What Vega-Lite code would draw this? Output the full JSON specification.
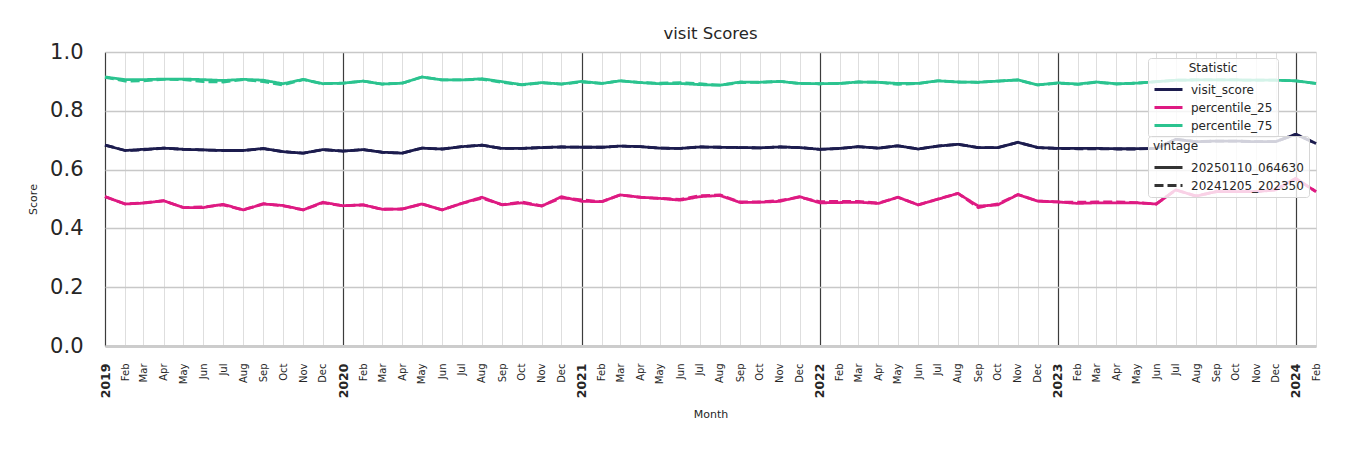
{
  "$schema": "https://vega.github.io/schema/vega-lite/v6.json",
  "autosize": "none",
  "width": 1211,
  "height": 294,
  "padding": {"left": 105, "top": 52, "right": 34, "bottom": 104},
  "background": "white",
  "config": {
    "view": {"stroke": null},
    "font": "DejaVu Sans",
    "text": {"font": "DejaVu Sans"}
  },
  "title": {
    "text": "visit Scores",
    "fontSize": 16.5,
    "fontWeight": "normal",
    "font": "DejaVu Sans",
    "color": "#262626",
    "anchor": "middle",
    "offset": -1
  },
  "data": {
    "values": [
      {"month": "2019-01-01", "vintage": "20250110_064630", "visit_score": 0.683, "percentile_25": 0.508, "percentile_75": 0.915},
      {"month": "2019-02-01", "vintage": "20250110_064630", "visit_score": 0.665, "percentile_25": 0.483, "percentile_75": 0.906},
      {"month": "2019-03-01", "vintage": "20250110_064630", "visit_score": 0.669, "percentile_25": 0.486, "percentile_75": 0.906},
      {"month": "2019-04-01", "vintage": "20250110_064630", "visit_score": 0.673, "percentile_25": 0.494, "percentile_75": 0.908},
      {"month": "2019-05-01", "vintage": "20250110_064630", "visit_score": 0.669, "percentile_25": 0.471, "percentile_75": 0.908},
      {"month": "2019-06-01", "vintage": "20250110_064630", "visit_score": 0.667, "percentile_25": 0.471, "percentile_75": 0.906},
      {"month": "2019-07-01", "vintage": "20250110_064630", "visit_score": 0.665, "percentile_25": 0.482, "percentile_75": 0.903},
      {"month": "2019-08-01", "vintage": "20250110_064630", "visit_score": 0.665, "percentile_25": 0.463, "percentile_75": 0.907},
      {"month": "2019-09-01", "vintage": "20250110_064630", "visit_score": 0.672, "percentile_25": 0.483, "percentile_75": 0.904},
      {"month": "2019-10-01", "vintage": "20250110_064630", "visit_score": 0.661, "percentile_25": 0.478, "percentile_75": 0.892},
      {"month": "2019-11-01", "vintage": "20250110_064630", "visit_score": 0.656, "percentile_25": 0.463, "percentile_75": 0.907},
      {"month": "2019-12-01", "vintage": "20250110_064630", "visit_score": 0.668, "percentile_25": 0.489, "percentile_75": 0.892},
      {"month": "2020-01-01", "vintage": "20250110_064630", "visit_score": 0.663, "percentile_25": 0.477, "percentile_75": 0.894},
      {"month": "2020-02-01", "vintage": "20250110_064630", "visit_score": 0.668, "percentile_25": 0.480, "percentile_75": 0.901},
      {"month": "2020-03-01", "vintage": "20250110_064630", "visit_score": 0.659, "percentile_25": 0.465, "percentile_75": 0.891},
      {"month": "2020-04-01", "vintage": "20250110_064630", "visit_score": 0.656, "percentile_25": 0.466, "percentile_75": 0.894},
      {"month": "2020-05-01", "vintage": "20250110_064630", "visit_score": 0.673, "percentile_25": 0.483, "percentile_75": 0.915},
      {"month": "2020-06-01", "vintage": "20250110_064630", "visit_score": 0.670, "percentile_25": 0.463, "percentile_75": 0.905},
      {"month": "2020-07-01", "vintage": "20250110_064630", "visit_score": 0.678, "percentile_25": 0.485, "percentile_75": 0.905},
      {"month": "2020-08-01", "vintage": "20250110_064630", "visit_score": 0.683, "percentile_25": 0.506, "percentile_75": 0.909},
      {"month": "2020-09-01", "vintage": "20250110_064630", "visit_score": 0.672, "percentile_25": 0.480, "percentile_75": 0.899},
      {"month": "2020-10-01", "vintage": "20250110_064630", "visit_score": 0.672, "percentile_25": 0.487, "percentile_75": 0.889},
      {"month": "2020-11-01", "vintage": "20250110_064630", "visit_score": 0.675, "percentile_25": 0.476, "percentile_75": 0.896},
      {"month": "2020-12-01", "vintage": "20250110_064630", "visit_score": 0.677, "percentile_25": 0.508, "percentile_75": 0.891},
      {"month": "2021-01-01", "vintage": "20250110_064630", "visit_score": 0.676, "percentile_25": 0.492, "percentile_75": 0.900},
      {"month": "2021-02-01", "vintage": "20250110_064630", "visit_score": 0.676, "percentile_25": 0.491, "percentile_75": 0.893},
      {"month": "2021-03-01", "vintage": "20250110_064630", "visit_score": 0.680, "percentile_25": 0.514, "percentile_75": 0.902},
      {"month": "2021-04-01", "vintage": "20250110_064630", "visit_score": 0.678, "percentile_25": 0.506, "percentile_75": 0.896},
      {"month": "2021-05-01", "vintage": "20250110_064630", "visit_score": 0.673, "percentile_25": 0.502, "percentile_75": 0.892},
      {"month": "2021-06-01", "vintage": "20250110_064630", "visit_score": 0.672, "percentile_25": 0.496, "percentile_75": 0.893},
      {"month": "2021-07-01", "vintage": "20250110_064630", "visit_score": 0.677, "percentile_25": 0.508, "percentile_75": 0.889},
      {"month": "2021-08-01", "vintage": "20250110_064630", "visit_score": 0.676, "percentile_25": 0.512, "percentile_75": 0.887},
      {"month": "2021-09-01", "vintage": "20250110_064630", "visit_score": 0.675, "percentile_25": 0.488, "percentile_75": 0.898},
      {"month": "2021-10-01", "vintage": "20250110_064630", "visit_score": 0.674, "percentile_25": 0.489, "percentile_75": 0.897},
      {"month": "2021-11-01", "vintage": "20250110_064630", "visit_score": 0.677, "percentile_25": 0.492, "percentile_75": 0.900},
      {"month": "2021-12-01", "vintage": "20250110_064630", "visit_score": 0.675, "percentile_25": 0.508, "percentile_75": 0.893},
      {"month": "2022-01-01", "vintage": "20250110_064630", "visit_score": 0.669, "percentile_25": 0.487, "percentile_75": 0.892},
      {"month": "2022-02-01", "vintage": "20250110_064630", "visit_score": 0.672, "percentile_25": 0.488, "percentile_75": 0.893},
      {"month": "2022-03-01", "vintage": "20250110_064630", "visit_score": 0.678, "percentile_25": 0.489, "percentile_75": 0.898},
      {"month": "2022-04-01", "vintage": "20250110_064630", "visit_score": 0.673, "percentile_25": 0.485, "percentile_75": 0.897},
      {"month": "2022-05-01", "vintage": "20250110_064630", "visit_score": 0.681, "percentile_25": 0.506, "percentile_75": 0.893},
      {"month": "2022-06-01", "vintage": "20250110_064630", "visit_score": 0.670, "percentile_25": 0.480, "percentile_75": 0.893},
      {"month": "2022-07-01", "vintage": "20250110_064630", "visit_score": 0.680, "percentile_25": 0.499, "percentile_75": 0.902},
      {"month": "2022-08-01", "vintage": "20250110_064630", "visit_score": 0.686, "percentile_25": 0.519, "percentile_75": 0.898},
      {"month": "2022-09-01", "vintage": "20250110_064630", "visit_score": 0.675, "percentile_25": 0.476, "percentile_75": 0.897},
      {"month": "2022-10-01", "vintage": "20250110_064630", "visit_score": 0.675, "percentile_25": 0.480, "percentile_75": 0.901},
      {"month": "2022-11-01", "vintage": "20250110_064630", "visit_score": 0.693, "percentile_25": 0.515, "percentile_75": 0.905},
      {"month": "2022-12-01", "vintage": "20250110_064630", "visit_score": 0.675, "percentile_25": 0.493, "percentile_75": 0.888},
      {"month": "2023-01-01", "vintage": "20250110_064630", "visit_score": 0.672, "percentile_25": 0.490, "percentile_75": 0.895},
      {"month": "2023-02-01", "vintage": "20250110_064630", "visit_score": 0.672, "percentile_25": 0.485, "percentile_75": 0.891},
      {"month": "2023-03-01", "vintage": "20250110_064630", "visit_score": 0.672, "percentile_25": 0.487, "percentile_75": 0.898},
      {"month": "2023-04-01", "vintage": "20250110_064630", "visit_score": 0.671, "percentile_25": 0.487, "percentile_75": 0.892},
      {"month": "2023-05-01", "vintage": "20250110_064630", "visit_score": 0.671, "percentile_25": 0.487, "percentile_75": 0.894},
      {"month": "2023-06-01", "vintage": "20250110_064630", "visit_score": 0.672, "percentile_25": 0.483, "percentile_75": 0.899},
      {"month": "2023-07-01", "vintage": "20250110_064630", "visit_score": 0.703, "percentile_25": 0.531, "percentile_75": 0.904},
      {"month": "2023-08-01", "vintage": "20250110_064630", "visit_score": 0.695, "percentile_25": 0.510, "percentile_75": 0.905},
      {"month": "2023-09-01", "vintage": "20250110_064630", "visit_score": 0.697, "percentile_25": 0.525, "percentile_75": 0.905},
      {"month": "2023-10-01", "vintage": "20250110_064630", "visit_score": 0.697, "percentile_25": 0.525, "percentile_75": 0.905},
      {"month": "2023-11-01", "vintage": "20250110_064630", "visit_score": 0.695, "percentile_25": 0.525, "percentile_75": 0.904},
      {"month": "2023-12-01", "vintage": "20250110_064630", "visit_score": 0.695, "percentile_25": 0.531, "percentile_75": 0.904},
      {"month": "2024-01-01", "vintage": "20250110_064630", "visit_score": 0.720, "percentile_25": 0.570, "percentile_75": 0.902},
      {"month": "2024-02-01", "vintage": "20250110_064630", "visit_score": 0.689, "percentile_25": 0.525, "percentile_75": 0.893},

      {"month": "2019-01-01", "vintage": "20241205_202350", "visit_score": 0.683, "percentile_25": 0.508, "percentile_75": 0.914},
      {"month": "2019-02-01", "vintage": "20241205_202350", "visit_score": 0.665, "percentile_25": 0.483, "percentile_75": 0.901},
      {"month": "2019-03-01", "vintage": "20241205_202350", "visit_score": 0.667, "percentile_25": 0.487, "percentile_75": 0.902},
      {"month": "2019-04-01", "vintage": "20241205_202350", "visit_score": 0.673, "percentile_25": 0.494, "percentile_75": 0.907},
      {"month": "2019-05-01", "vintage": "20241205_202350", "visit_score": 0.669, "percentile_25": 0.471, "percentile_75": 0.906},
      {"month": "2019-06-01", "vintage": "20241205_202350", "visit_score": 0.667, "percentile_25": 0.473, "percentile_75": 0.899},
      {"month": "2019-07-01", "vintage": "20241205_202350", "visit_score": 0.665, "percentile_25": 0.480, "percentile_75": 0.898},
      {"month": "2019-08-01", "vintage": "20241205_202350", "visit_score": 0.665, "percentile_25": 0.463, "percentile_75": 0.906},
      {"month": "2019-09-01", "vintage": "20241205_202350", "visit_score": 0.671, "percentile_25": 0.484, "percentile_75": 0.899},
      {"month": "2019-10-01", "vintage": "20241205_202350", "visit_score": 0.661, "percentile_25": 0.477, "percentile_75": 0.888},
      {"month": "2019-11-01", "vintage": "20241205_202350", "visit_score": 0.656, "percentile_25": 0.463, "percentile_75": 0.906},
      {"month": "2019-12-01", "vintage": "20241205_202350", "visit_score": 0.668, "percentile_25": 0.487, "percentile_75": 0.892},
      {"month": "2020-01-01", "vintage": "20241205_202350", "visit_score": 0.663, "percentile_25": 0.477, "percentile_75": 0.894},
      {"month": "2020-02-01", "vintage": "20241205_202350", "visit_score": 0.668, "percentile_25": 0.480, "percentile_75": 0.901},
      {"month": "2020-03-01", "vintage": "20241205_202350", "visit_score": 0.659, "percentile_25": 0.465, "percentile_75": 0.891},
      {"month": "2020-04-01", "vintage": "20241205_202350", "visit_score": 0.656, "percentile_25": 0.466, "percentile_75": 0.894},
      {"month": "2020-05-01", "vintage": "20241205_202350", "visit_score": 0.673, "percentile_25": 0.483, "percentile_75": 0.915},
      {"month": "2020-06-01", "vintage": "20241205_202350", "visit_score": 0.670, "percentile_25": 0.463, "percentile_75": 0.905},
      {"month": "2020-07-01", "vintage": "20241205_202350", "visit_score": 0.678, "percentile_25": 0.485, "percentile_75": 0.905},
      {"month": "2020-08-01", "vintage": "20241205_202350", "visit_score": 0.683, "percentile_25": 0.503, "percentile_75": 0.907},
      {"month": "2020-09-01", "vintage": "20241205_202350", "visit_score": 0.672, "percentile_25": 0.481, "percentile_75": 0.897},
      {"month": "2020-10-01", "vintage": "20241205_202350", "visit_score": 0.672, "percentile_25": 0.490, "percentile_75": 0.888},
      {"month": "2020-11-01", "vintage": "20241205_202350", "visit_score": 0.675, "percentile_25": 0.477, "percentile_75": 0.895},
      {"month": "2020-12-01", "vintage": "20241205_202350", "visit_score": 0.677, "percentile_25": 0.504, "percentile_75": 0.891},
      {"month": "2021-01-01", "vintage": "20241205_202350", "visit_score": 0.676, "percentile_25": 0.497, "percentile_75": 0.898},
      {"month": "2021-02-01", "vintage": "20241205_202350", "visit_score": 0.676, "percentile_25": 0.491, "percentile_75": 0.893},
      {"month": "2021-03-01", "vintage": "20241205_202350", "visit_score": 0.680, "percentile_25": 0.514, "percentile_75": 0.902},
      {"month": "2021-04-01", "vintage": "20241205_202350", "visit_score": 0.678, "percentile_25": 0.506, "percentile_75": 0.896},
      {"month": "2021-05-01", "vintage": "20241205_202350", "visit_score": 0.673, "percentile_25": 0.502, "percentile_75": 0.894},
      {"month": "2021-06-01", "vintage": "20241205_202350", "visit_score": 0.672, "percentile_25": 0.499, "percentile_75": 0.896},
      {"month": "2021-07-01", "vintage": "20241205_202350", "visit_score": 0.677, "percentile_25": 0.511, "percentile_75": 0.892},
      {"month": "2021-08-01", "vintage": "20241205_202350", "visit_score": 0.676, "percentile_25": 0.514, "percentile_75": 0.887},
      {"month": "2021-09-01", "vintage": "20241205_202350", "visit_score": 0.675, "percentile_25": 0.490, "percentile_75": 0.896},
      {"month": "2021-10-01", "vintage": "20241205_202350", "visit_score": 0.674, "percentile_25": 0.490, "percentile_75": 0.897},
      {"month": "2021-11-01", "vintage": "20241205_202350", "visit_score": 0.677, "percentile_25": 0.495, "percentile_75": 0.900},
      {"month": "2021-12-01", "vintage": "20241205_202350", "visit_score": 0.675, "percentile_25": 0.506, "percentile_75": 0.893},
      {"month": "2022-01-01", "vintage": "20241205_202350", "visit_score": 0.669, "percentile_25": 0.491, "percentile_75": 0.892},
      {"month": "2022-02-01", "vintage": "20241205_202350", "visit_score": 0.672, "percentile_25": 0.492, "percentile_75": 0.893},
      {"month": "2022-03-01", "vintage": "20241205_202350", "visit_score": 0.678, "percentile_25": 0.492, "percentile_75": 0.898},
      {"month": "2022-04-01", "vintage": "20241205_202350", "visit_score": 0.673, "percentile_25": 0.486, "percentile_75": 0.897},
      {"month": "2022-05-01", "vintage": "20241205_202350", "visit_score": 0.681, "percentile_25": 0.506, "percentile_75": 0.890},
      {"month": "2022-06-01", "vintage": "20241205_202350", "visit_score": 0.670, "percentile_25": 0.480, "percentile_75": 0.893},
      {"month": "2022-07-01", "vintage": "20241205_202350", "visit_score": 0.680, "percentile_25": 0.500, "percentile_75": 0.902},
      {"month": "2022-08-01", "vintage": "20241205_202350", "visit_score": 0.686, "percentile_25": 0.519, "percentile_75": 0.898},
      {"month": "2022-09-01", "vintage": "20241205_202350", "visit_score": 0.675, "percentile_25": 0.471, "percentile_75": 0.897},
      {"month": "2022-10-01", "vintage": "20241205_202350", "visit_score": 0.675, "percentile_25": 0.483, "percentile_75": 0.901},
      {"month": "2022-11-01", "vintage": "20241205_202350", "visit_score": 0.693, "percentile_25": 0.515, "percentile_75": 0.905},
      {"month": "2022-12-01", "vintage": "20241205_202350", "visit_score": 0.675, "percentile_25": 0.493, "percentile_75": 0.888},
      {"month": "2023-01-01", "vintage": "20241205_202350", "visit_score": 0.672, "percentile_25": 0.490, "percentile_75": 0.894},
      {"month": "2023-02-01", "vintage": "20241205_202350", "visit_score": 0.671, "percentile_25": 0.489, "percentile_75": 0.890},
      {"month": "2023-03-01", "vintage": "20241205_202350", "visit_score": 0.671, "percentile_25": 0.490, "percentile_75": 0.897},
      {"month": "2023-04-01", "vintage": "20241205_202350", "visit_score": 0.670, "percentile_25": 0.490, "percentile_75": 0.891},
      {"month": "2023-05-01", "vintage": "20241205_202350", "visit_score": 0.670, "percentile_25": 0.488, "percentile_75": 0.894},
      {"month": "2023-06-01", "vintage": "20241205_202350", "visit_score": 0.672, "percentile_25": 0.483, "percentile_75": 0.899},
      {"month": "2023-07-01", "vintage": "20241205_202350", "visit_score": 0.703, "percentile_25": 0.531, "percentile_75": 0.904},
      {"month": "2023-08-01", "vintage": "20241205_202350", "visit_score": 0.695, "percentile_25": 0.510, "percentile_75": 0.905},
      {"month": "2023-09-01", "vintage": "20241205_202350", "visit_score": 0.697, "percentile_25": 0.525, "percentile_75": 0.905},
      {"month": "2023-10-01", "vintage": "20241205_202350", "visit_score": 0.697, "percentile_25": 0.525, "percentile_75": 0.905},
      {"month": "2023-11-01", "vintage": "20241205_202350", "visit_score": 0.695, "percentile_25": 0.525, "percentile_75": 0.904},
      {"month": "2023-12-01", "vintage": "20241205_202350", "visit_score": 0.695, "percentile_25": 0.531, "percentile_75": 0.904},
      {"month": "2024-01-01", "vintage": "20241205_202350", "visit_score": 0.720, "percentile_25": 0.570, "percentile_75": 0.902},
      {"month": "2024-02-01", "vintage": "20241205_202350", "visit_score": 0.689, "percentile_25": 0.525, "percentile_75": 0.893}
    ]
  },
  "transform": [
    {"fold": ["visit_score", "percentile_25", "percentile_75"], "as": ["Statistic", "Score"]}
  ],
  "mark": {"type": "line", "strokeWidth": 2.8, "strokeJoin": "round", "strokeCap": "butt"},
  "encoding": {
    "x": {
      "field": "month",
      "type": "temporal",
      "title": "Month",
      "scale": {"type": "utc", "domain": [{"year": 2019, "month": 1, "date": 1, "utc": true}, {"year": 2024, "month": 2, "date": 1, "utc": true}], "nice": false},
      "axis": {
        "tickCount": {"interval": "month", "step": 1},
        "labelExpr": "utcmonth(datum.value) == 0 ? utcFormat(datum.value, '%Y') : utcFormat(datum.value, '%b')",
        "labelAngle": 270,
        "labelOverlap": false,
        "labelFont": "DejaVu Sans",
        "labelFontSize": {"condition": {"test": "utcmonth(datum.value) == 0", "value": 12.5}, "value": 10},
        "labelFontWeight": {"condition": {"test": "utcmonth(datum.value) == 0", "value": "bold"}, "value": "normal"},
        "labelColor": "#262626",
        "labelPadding": 17,
        "labelBound": false,
        "labelFlush": false,
        "ticks": false,
        "domain": true,
        "domainColor": "#cccccc",
        "domainWidth": 3,
        "grid": true,
        "gridColor": {"condition": {"test": "utcmonth(datum.value) == 0", "value": "#3c3c3c"}, "value": "#dedede"},
        "gridWidth": {"condition": {"test": "utcmonth(datum.value) == 0", "value": 1.2}, "value": 1},
        "gridOpacity": 1,
        "titleFont": "DejaVu Sans",
        "titleFontSize": 11,
        "titleFontWeight": "normal",
        "titleColor": "#262626",
        "titlePadding": 11
      }
    },
    "y": {
      "field": "Score",
      "type": "quantitative",
      "title": "Score",
      "scale": {"domain": [0, 1], "nice": false, "zero": true},
      "axis": {
        "values": [0, 0.2, 0.4, 0.6, 0.8, 1.0],
        "format": ".1f",
        "labelFont": "DejaVu Sans",
        "labelFontSize": 21,
        "labelColor": "#262626",
        "labelPadding": 22,
        "ticks": false,
        "domain": false,
        "grid": true,
        "gridColor": "#c8c8c8",
        "gridWidth": 1.5,
        "gridOpacity": 1,
        "titleFont": "DejaVu Sans",
        "titleFontSize": 11,
        "titleFontWeight": "normal",
        "titleColor": "#262626",
        "titlePadding": 11
      }
    },
    "color": {
      "field": "Statistic",
      "type": "nominal",
      "scale": {"domain": ["visit_score", "percentile_25", "percentile_75"], "range": ["#1c1c4e", "#de1a82", "#2bc38f"]},
      "legend": {
        "title": "Statistic",
        "orient": "none",
        "legendX": 1043,
        "legendY": 6,
        "fillColor": "rgba(255,255,255,0.8)",
        "strokeColor": "#d6d6d6",
        "cornerRadius": 3,
        "padding": 5,
        "titleFont": "DejaVu Sans",
        "titleFontSize": 12,
        "titleFontWeight": "normal",
        "titleColor": "#262626",
        "titleAnchor": "middle",
        "titlePadding": 6,
        "labelFont": "DejaVu Sans",
        "labelFontSize": 12,
        "labelColor": "#262626",
        "labelOffset": 14,
        "labelExpr": "datum.label + '\u2003\u2003\u2003'",
        "symbolType": "M-2,0H2",
        "symbolSize": 196,
        "symbolStrokeWidth": 3,
        "symbolOffset": 7,
        "rowPadding": 3
      }
    },
    "strokeDash": {
      "field": "vintage",
      "type": "nominal",
      "scale": {"domain": ["20250110_064630", "20241205_202350"], "range": [[1, 0], [9, 4]]},
      "legend": {
        "title": "\u2003\u2003\u2003vintage",
        "orient": "none",
        "legendX": 1043,
        "legendY": 84,
        "fillColor": "rgba(255,255,255,0.8)",
        "strokeColor": "#d6d6d6",
        "cornerRadius": 3,
        "padding": 5,
        "titleFont": "DejaVu Sans",
        "titleFontSize": 12,
        "titleFontWeight": "normal",
        "titleColor": "#262626",
        "titlePadding": 6,
        "labelFont": "DejaVu Sans",
        "labelFontSize": 12,
        "labelColor": "#262626",
        "labelOffset": 14,
        "symbolType": "M-2,0H2",
        "symbolSize": 196,
        "symbolStrokeWidth": 3,
        "symbolStrokeColor": "#333333",
        "symbolOffset": 7,
        "rowPadding": 3
      }
    }
  }
}
